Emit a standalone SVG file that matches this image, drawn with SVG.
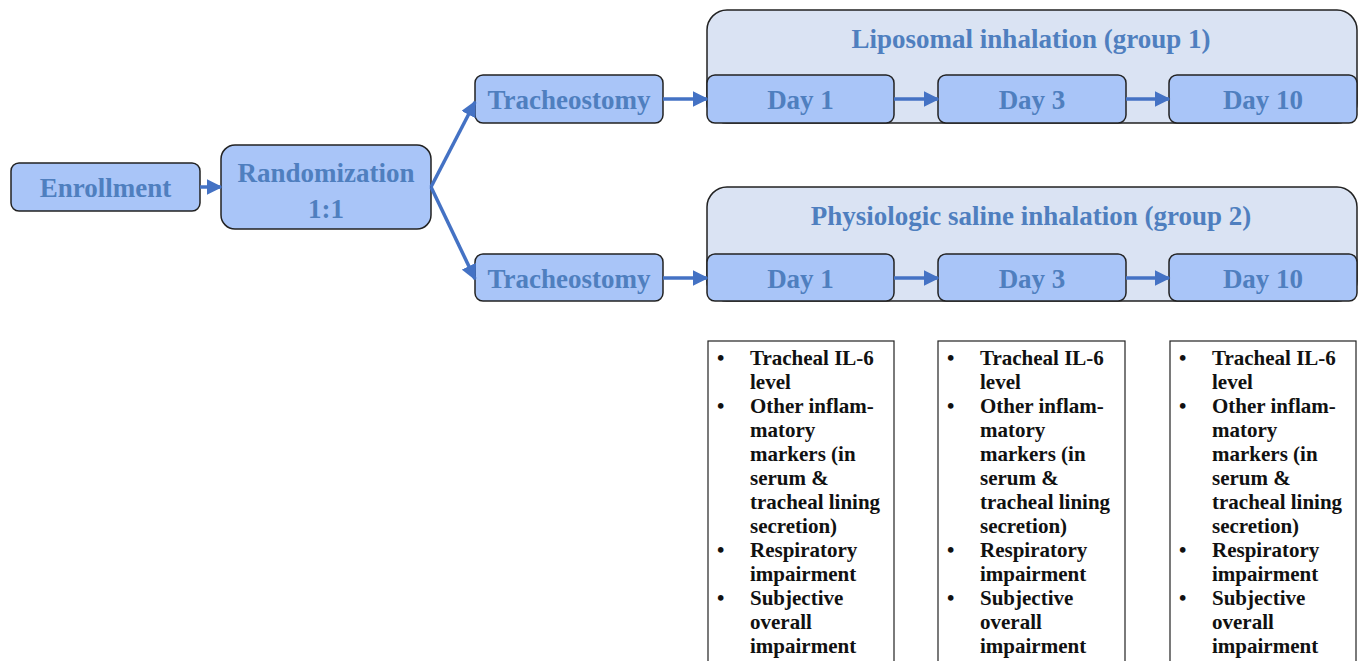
<svg xmlns="http://www.w3.org/2000/svg" width="1360" height="661" viewBox="0 0 1360 661">
<style>
.node{fill:#a9c5f8;stroke:#222;stroke-width:1.5}
.grp{fill:#dae3f3;stroke:#222;stroke-width:1.5}
.lbl{font-family:"Liberation Serif",serif;font-weight:bold;font-size:27px;fill:#4f7fbf;text-anchor:middle}
.box{fill:#fff;stroke:#222;stroke-width:1.2}
.lst{font-family:"Liberation Serif",serif;font-weight:bold;font-size:21px;fill:#111}
.con{stroke:#4472c4;stroke-width:3.5;fill:none}
</style>
<defs>
<marker id="ah" viewBox="0 0 10 10" refX="9" refY="5" markerWidth="4.5" markerHeight="4.5" markerUnits="strokeWidth" orient="auto">
<path d="M0,0 L10,5 L0,10 z" fill="#4472c4"/>
</marker>
</defs>
<g id="group1">
<rect class="grp" x="707" y="10" width="650" height="113" rx="20"/>
<text class="lbl" x="1031" y="48">Liposomal inhalation (group 1)</text>
</g>
<g id="group2">
<rect class="grp" x="707" y="187" width="650" height="114" rx="20"/>
<text class="lbl" x="1031" y="225">Physiologic saline inhalation (group 2)</text>
</g>
<g id="enrollment">
<rect class="node" x="11" y="163" width="189" height="48" rx="8"/>
<text class="lbl" x="105.5" y="197">Enrollment</text>
</g>
<g id="randomization">
<rect class="node" x="221" y="145" width="210" height="84" rx="14"/>
<text class="lbl" x="326" y="182">Randomization</text>
<text class="lbl" x="326" y="218">1:1</text>
</g>
<g id="trach1">
<rect class="node" x="475" y="75" width="188" height="48" rx="8"/>
<text class="lbl" x="569" y="109">Tracheostomy</text>
</g>
<g id="trach2">
<rect class="node" x="475" y="254" width="188" height="47" rx="8"/>
<text class="lbl" x="569" y="288">Tracheostomy</text>
</g>
<g id="g1day1"><rect class="node" x="707" y="75" width="187" height="48" rx="8"/><text class="lbl" x="800.5" y="109">Day 1</text></g>
<g id="g1day3"><rect class="node" x="938" y="75" width="188" height="48" rx="8"/><text class="lbl" x="1032" y="109">Day 3</text></g>
<g id="g1day10"><rect class="node" x="1169" y="75" width="188" height="48" rx="8"/><text class="lbl" x="1263" y="109">Day 10</text></g>
<g id="g2day1"><rect class="node" x="707" y="254" width="187" height="47" rx="8"/><text class="lbl" x="800.5" y="288">Day 1</text></g>
<g id="g2day3"><rect class="node" x="938" y="254" width="188" height="47" rx="8"/><text class="lbl" x="1032" y="288">Day 3</text></g>
<g id="g2day10"><rect class="node" x="1169" y="254" width="188" height="47" rx="8"/><text class="lbl" x="1263" y="288">Day 10</text></g>
<g id="connectors">
<line class="con" x1="200" y1="187" x2="221" y2="187" marker-end="url(#ah)"/>
<line class="con" x1="431" y1="187" x2="475" y2="102" marker-end="url(#ah)"/>
<line class="con" x1="431" y1="187" x2="475" y2="279" marker-end="url(#ah)"/>
<line class="con" x1="663" y1="99" x2="707" y2="99" marker-end="url(#ah)"/>
<line class="con" x1="894" y1="99" x2="938" y2="99" marker-end="url(#ah)"/>
<line class="con" x1="1126" y1="99" x2="1169" y2="99" marker-end="url(#ah)"/>
<line class="con" x1="663" y1="278" x2="707" y2="278" marker-end="url(#ah)"/>
<line class="con" x1="894" y1="278" x2="938" y2="278" marker-end="url(#ah)"/>
<line class="con" x1="1126" y1="278" x2="1169" y2="278" marker-end="url(#ah)"/>
</g>
<g id="outcomes1">
<rect class="box" x="708" y="341" width="186" height="330"/>
<text class="lst"><tspan x="717" y="365">•</tspan><tspan x="750" y="365">Tracheal IL-6</tspan><tspan x="750" y="389">level</tspan><tspan x="717" y="413">•</tspan><tspan x="750" y="413">Other inflam-</tspan><tspan x="750" y="437">matory</tspan><tspan x="750" y="461">markers (in</tspan><tspan x="750" y="485">serum &amp;</tspan><tspan x="750" y="509">tracheal lining</tspan><tspan x="750" y="533">secretion)</tspan><tspan x="717" y="557">•</tspan><tspan x="750" y="557">Respiratory</tspan><tspan x="750" y="581">impairment</tspan><tspan x="717" y="605">•</tspan><tspan x="750" y="605">Subjective</tspan><tspan x="750" y="629">overall</tspan><tspan x="750" y="653">impairment</tspan></text>
</g>
<g id="outcomes2">
<rect class="box" x="938" y="341" width="187" height="330"/>
<text class="lst"><tspan x="947" y="365">•</tspan><tspan x="980" y="365">Tracheal IL-6</tspan><tspan x="980" y="389">level</tspan><tspan x="947" y="413">•</tspan><tspan x="980" y="413">Other inflam-</tspan><tspan x="980" y="437">matory</tspan><tspan x="980" y="461">markers (in</tspan><tspan x="980" y="485">serum &amp;</tspan><tspan x="980" y="509">tracheal lining</tspan><tspan x="980" y="533">secretion)</tspan><tspan x="947" y="557">•</tspan><tspan x="980" y="557">Respiratory</tspan><tspan x="980" y="581">impairment</tspan><tspan x="947" y="605">•</tspan><tspan x="980" y="605">Subjective</tspan><tspan x="980" y="629">overall</tspan><tspan x="980" y="653">impairment</tspan></text>
</g>
<g id="outcomes3">
<rect class="box" x="1170" y="341" width="186" height="330"/>
<text class="lst"><tspan x="1179" y="365">•</tspan><tspan x="1212" y="365">Tracheal IL-6</tspan><tspan x="1212" y="389">level</tspan><tspan x="1179" y="413">•</tspan><tspan x="1212" y="413">Other inflam-</tspan><tspan x="1212" y="437">matory</tspan><tspan x="1212" y="461">markers (in</tspan><tspan x="1212" y="485">serum &amp;</tspan><tspan x="1212" y="509">tracheal lining</tspan><tspan x="1212" y="533">secretion)</tspan><tspan x="1179" y="557">•</tspan><tspan x="1212" y="557">Respiratory</tspan><tspan x="1212" y="581">impairment</tspan><tspan x="1179" y="605">•</tspan><tspan x="1212" y="605">Subjective</tspan><tspan x="1212" y="629">overall</tspan><tspan x="1212" y="653">impairment</tspan></text>
</g>
</svg>
